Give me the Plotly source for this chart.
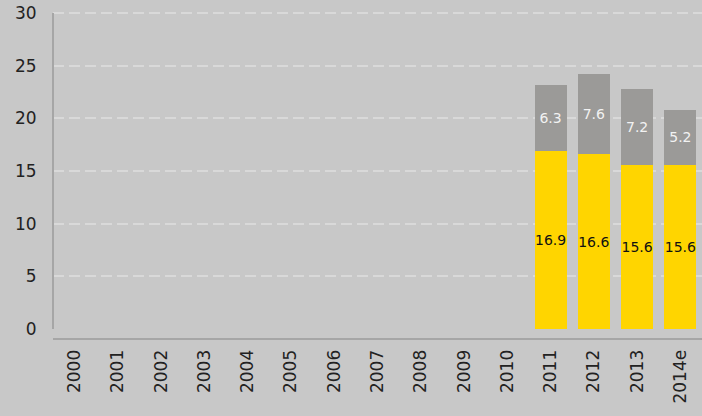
import plotly.graph_objects as go

years = ["2000", "2001", "2002", "2003", "2004", "2005", "2006", "2007",
         "2008", "2009", "2010", "2011", "2012", "2013", "2014e"]
base_vals = [None] * 11 + [16.9, 16.6, 15.6, 15.6]
top_vals = [None] * 11 + [6.3, 7.6, 7.2, 5.2]
y_ticks = [0, 5, 10, 15, 20, 25, 30]
grid_ticks = [5, 10, 15, 20, 25, 30]

BG = "#c8c8c8"
FONT = "DejaVu Sans"

fig = go.Figure()
fig.add_trace(go.Bar(
    x=years, y=base_vals, marker_color="#ffd500", marker_line_width=0,
    text=[f"{v}" if v is not None else "" for v in base_vals],
    textposition="inside", insidetextanchor="middle", textangle=0,
    constraintext="none",
    textfont=dict(family=FONT, size=14, color="#111111"),
))
fig.add_trace(go.Bar(
    x=years, y=top_vals, marker_color="#9b9a98", marker_line_width=0,
    text=[f"{v}" if v is not None else "" for v in top_vals],
    textposition="inside", insidetextanchor="middle", textangle=0,
    constraintext="none",
    textfont=dict(family=FONT, size=14, color="#f2f2f2"),
))
# empty trace so the grid axis gets drawn
fig.add_trace(go.Scatter(x=[years[0]], y=[None], yaxis="y2", mode="none",
                         hoverinfo="skip"))

fig.update_layout(
    barmode="stack", bargap=0.26, showlegend=False,
    width=702, height=416,
    margin=dict(l=53, r=0, t=12, b=78),
    paper_bgcolor=BG, plot_bgcolor=BG,
    font=dict(family=FONT, size=17, color="#222222"),
    xaxis=dict(
        range=[-0.5, 14.5],
        showline=True, linecolor="#a6a6a6", linewidth=2, automargin=False,
        tickangle=-90, ticks="outside", ticklen=3, tickcolor=BG,
        showgrid=False,
    ),
    yaxis=dict(
        range=[-0.85, 30.1], tickvals=y_ticks, showgrid=False, zeroline=False,
        ticks="outside", ticklen=12, tickcolor=BG, automargin=False,
    ),
    yaxis2=dict(
        overlaying="y", anchor="x", range=[-0.85, 30.1], tickvals=grid_ticks,
        showgrid=True, gridcolor="#d9d9d9", griddash="11px,5px", gridwidth=2,
        showticklabels=False, zeroline=False, automargin=False,
    ),
    shapes=[dict(type="line", xref="paper", yref="y", x0=0, x1=0, y0=0, y1=30,
                 line=dict(color="#a6a6a6", width=2))],
)

fig.write_html("out.html", config={"displayModeBar": False},
               post_script="document.body.style.margin='0';document.body.style.overflow='hidden';")
